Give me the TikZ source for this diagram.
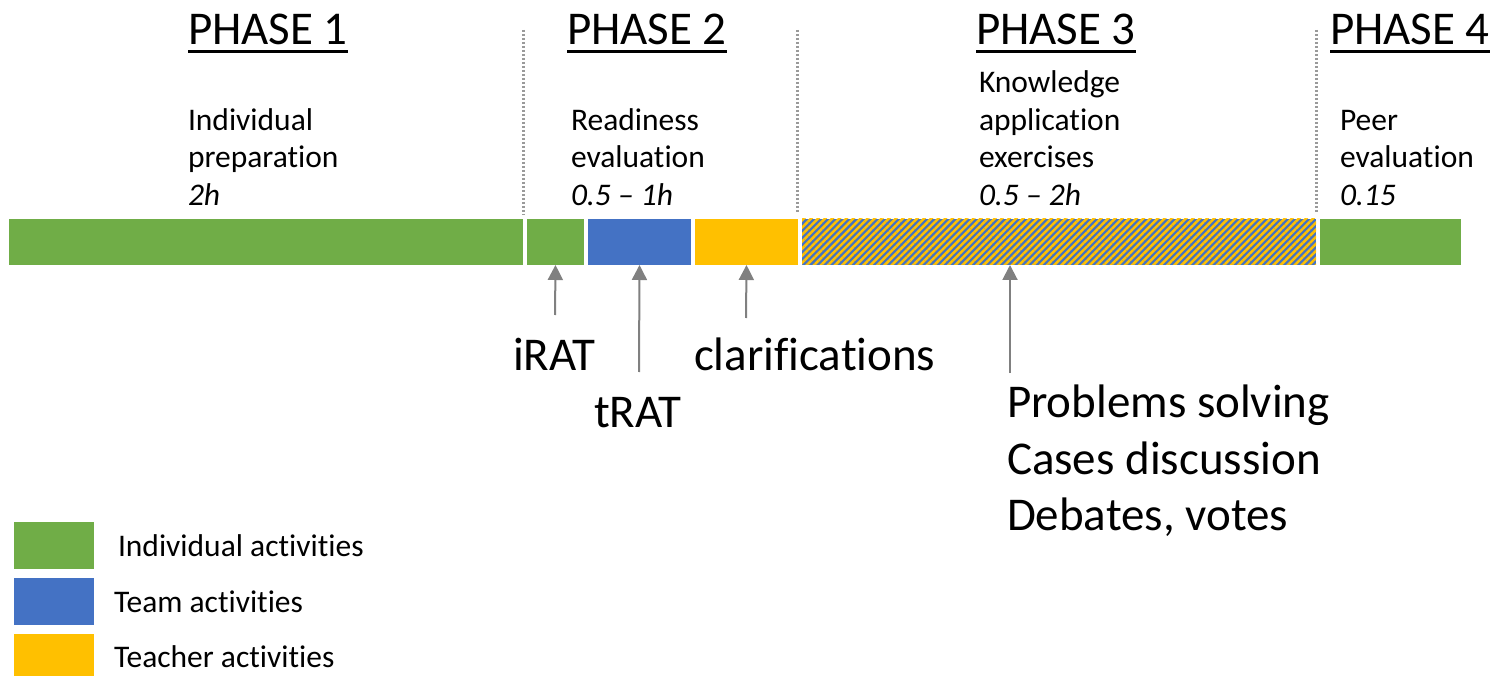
\documentclass[tikz,border=0pt]{standalone}
\usepackage{fontspec}
\setmainfont{Carlito}[Ligatures=NoCommon,RawFeature=-liga]
\usetikzlibrary{arrows.meta,patterns.meta}
\definecolor{cgreen}{HTML}{70AD47}
\definecolor{cblue}{HTML}{4472C4}
\definecolor{cyellow}{HTML}{FFC000}
\definecolor{cgray}{HTML}{808080}
\definecolor{cdot}{HTML}{9A9A9A}
\begin{document}
\begin{tikzpicture}[x=1pt,y=-1pt,
  seg/.style={inner sep=0,outer sep=0,minimum height=46pt,anchor=north west},
  hdr/.style={inner sep=0,outer sep=0,anchor=base west,font=\fontsize{47}{57}\selectfont},
  small/.style={inner sep=0,outer sep=0,anchor=base west,font=\fontsize{31.5}{38}\selectfont},
  smallit/.style={inner sep=0,outer sep=0,anchor=base west,font=\fontsize{31.5}{38}\selectfont\itshape},
  big/.style={inner sep=0,outer sep=0,anchor=base west,font=\fontsize{47}{57}\selectfont},
  pointer/.style={draw=cgray,line width=2pt,-{Triangle[width=15pt,length=15pt]}},
  divider/.style={draw=cdot,line width=3pt,dash pattern=on 2.5pt off 1.5pt},
  uline/.style={draw=black,line width=2.5pt},
  legbox/.style={inner sep=0,outer sep=0,minimum width=80pt,minimum height=47pt,anchor=north west}
]
\useasboundingbox (0,0) rectangle (1496,676);

% bar segments
\node[seg,fill=cgreen,minimum width=514pt] (g1) at (9,219) {};
\node[seg,fill=cgreen,minimum width=57pt] (g2) at (527,219) {};
\node[seg,fill=cblue,minimum width=103pt] (b2) at (588,219) {};
\node[seg,fill=cyellow,minimum width=103pt] (y2) at (695,219) {};
\node[seg,minimum width=514pt,preaction={fill=cblue},
      pattern={Lines[angle=45,distance=5pt,line width=2.5pt]},pattern color=cyellow] (h3) at (802,219) {};
\node[seg,fill=cgreen,minimum width=141pt] (g4) at (1320,219) {};

% dividers
\coordinate (d1t) at (523,30); \coordinate (d1b) at (523,215);
\coordinate (d2t) at (797,30); \coordinate (d2b) at (797,213);
\coordinate (d3t) at (1316,30); \coordinate (d3b) at (1316,213);
\draw[divider] (d1t) -- (d1b);
\draw[divider] (d2t) -- (d2b);
\draw[divider] (d3t) -- (d3b);

% headers
\node[hdr] (p1) at (188,45) {PHASE 1};
\node[hdr] (p2) at (567,45) {PHASE 2};
\node[hdr] (p3) at (976,45) {PHASE 3};
\node[hdr] (p4) at (1330,45) {PHASE 4};
\foreach \p in {p1,p2,p3,p4}
  \draw[uline] ([yshift=-6.5pt]\p.base west) -- ([yshift=-6.5pt]\p.base east);

% phase descriptions
\node[small] (t1a) at (188,131) {Individual};
\node[small] (t1b) at (188,168) {preparation};
\node[smallit] (t1c) at (188,206) {2h};
\node[small] (t2a) at (571,131) {Readiness};
\node[small] (t2b) at (571,168) {evaluation};
\node[smallit] (t2c) at (571,206) {0.5 – 1h};
\node[small] (t3a) at (979,93) {Knowledge};
\node[small] (t3b) at (979,131) {application};
\node[small] (t3c) at (979,168) {exercises};
\node[smallit] (t3d) at (979,206) {0.5 – 2h};
\node[small] (t4a) at (1340,131) {Peer};
\node[small] (t4b) at (1340,168) {evaluation};
\node[smallit] (t4c) at (1340,206) {0.15};

% pointers
\coordinate (a1) at (555,315);
\coordinate (a2) at (639,372);
\coordinate (a3) at (746,318);
\coordinate (a4) at (1010,373);
\coordinate (a4tip) at (1010,265);
\draw[pointer] (a1) -- (g2.south);
\draw[pointer] (a2) -- (b2.south);
\draw[pointer] (a3) -- (y2.south);
\draw[pointer] (a4) -- (a4tip);

% big labels
\node[big] (irat) at (513,370) {iRAT};
\node[big] (trat) at (594,427) {tRAT};
\node[big] (clar) at (694,370) {clarifications};
\node[big] (l1) at (1007,417) {Problems solving};
\node[big] (l2) at (1007,474) {Cases discussion};
\node[big] (l3) at (1007,530) {Debates, votes};

% legend
\node[legbox,fill=cgreen] (k1) at (14,522) {};
\node[legbox,fill=cblue] (k2) at (14,578) {};
\node[legbox,fill=cyellow] (k3) at (14,634) {};
\node[small] (k1t) at (118,556) {Individual activities};
\node[small] (k2t) at (114,612) {Team activities};
\node[small] (k3t) at (114,667) {Teacher activities};
\end{tikzpicture}
\end{document}
